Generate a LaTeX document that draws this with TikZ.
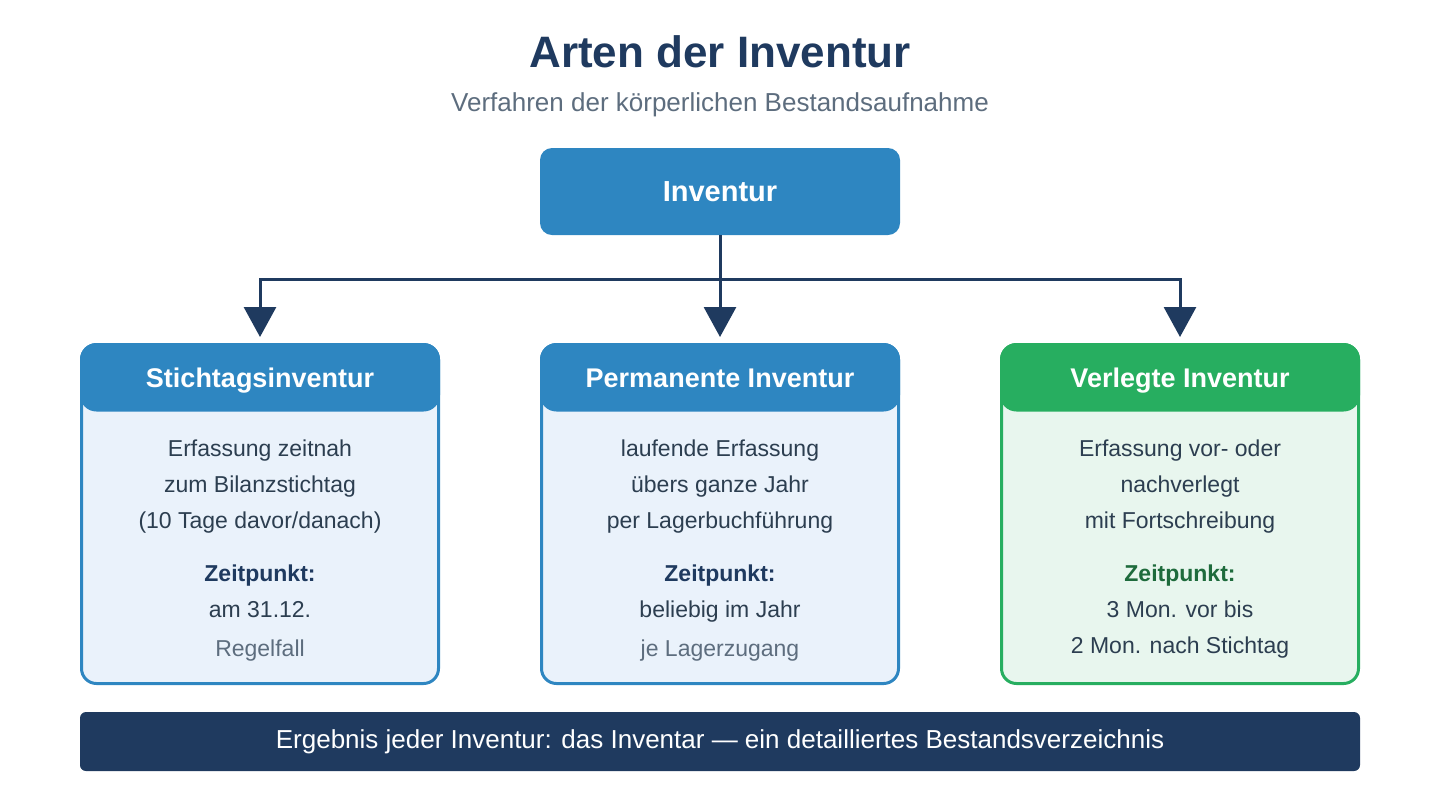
\documentclass[tikz,border=0pt]{standalone}
\usepackage{fontspec}
\setmainfont{Liberation Sans}
\usepackage{tikz}
\usetikzlibrary{arrows.meta,positioning,calc}
\usepackage{xcolor}
\definecolor{navy}{HTML}{1F3A5F}
\definecolor{invblue}{HTML}{2E86C1}
\definecolor{invbluelight}{HTML}{EAF2FB}
\definecolor{invgreen}{HTML}{27AE60}
\definecolor{invgreenlight}{HTML}{E8F6EE}
\definecolor{darkgreen}{HTML}{1E6B3C}
\definecolor{bodygrey}{HTML}{2C3E50}
\definecolor{softgrey}{HTML}{5D6D7E}

\begin{document}
\begin{tikzpicture}[x=0.5pt, y=-0.5pt,
    card/.style={rectangle, draw=#1, line width=1.5pt, fill=#1light,
        minimum width=178.5pt, minimum height=169.5pt, rounded corners=7.5pt},
    cardhead/.style={rectangle, draw=#1, line width=1.5pt, fill=#1,
        minimum width=178.5pt, minimum height=32.75pt, rounded corners=7.5pt,
        text height=10pt, text depth=0pt,
        text=white, font=\fontsize{13.5}{16}\selectfont\bfseries},
    bodytext/.style={anchor=north, inner sep=0pt, align=center, text=bodygrey,
        font=\fontsize{11.5}{18}\selectfont},
    arr/.style={-{Triangle[length=15pt, width=16pt]}, line width=1.5pt, navy,
        shorten >=3pt}
]
    \useasboundingbox (0,0) rectangle (1440,800);

    \node[anchor=base, navy, font=\fontsize{22}{24}\selectfont\bfseries] (title) at (720,67) {Arten der Inventur};
    \node[anchor=base, softgrey, font=\fontsize{13}{16}\selectfont] (subtitle) at (720,111) {Verfahren der körperlichen Bestandsaufnahme};

    \node[rectangle, fill=invblue, rounded corners=6pt, minimum width=180pt, minimum height=43.5pt,
        text=white, font=\fontsize{14.5}{16}\selectfont\bfseries] (inv) at (720,191.5) {Inventur};

    % cards
    \node[card=invblue] (stich) at (260,514) {};
    \node[card=invblue] (perm) at (720,514) {};
    \node[card=invgreen] (verl) at (1180,514) {};

    \node[cardhead=invblue] (stichhead) at (260,377.25) {Stichtagsinventur};
    \node[cardhead=invblue] (permhead) at (720,377.25) {Permanente Inventur};
    \node[cardhead=invgreen] (verlhead) at (1180,377.25) {Verlegte Inventur};

    \node[bodytext] (stichtxt) at (260,439) {Erfassung zeitnah\\zum Bilanzstichtag\\(10 Tage davor/danach)\\[8.5pt]
        \textbf{\color{navy}Zeitpunkt:}\\am 31.12.\\[1.5pt]{\color{softgrey}Regelfall}};
    \node[bodytext] (permtxt) at (720,439) {laufende Erfassung\\übers ganze Jahr\\per Lagerbuchführung\\[8.5pt]
        \textbf{\color{navy}Zeitpunkt:}\\beliebig im Jahr\\[1.5pt]{\color{softgrey}je Lagerzugang}};
    \node[bodytext] (verltxt) at (1180,439) {Erfassung vor- oder\\nachverlegt\\mit Fortschreibung\\[8.5pt]
        \textbf{\color{darkgreen}Zeitpunkt:}\\3 Mon. vor bis\\2 Mon. nach Stichtag};

    % connectors
    \coordinate (bar) at (720,279);
    \draw[arr] (inv.south) -- (permhead.north);
    \draw[arr] (bar) -| (stichhead.north);
    \draw[arr] (bar) -| (verlhead.north);

    \node[rectangle, fill=navy, rounded corners=3pt, minimum width=640pt, minimum height=29.5pt,
        text=white, font=\fontsize{13}{16}\selectfont] (result) at (720,741.5)
        {Ergebnis jeder Inventur: das Inventar — ein detailliertes Bestandsverzeichnis};
\end{tikzpicture}
\end{document}
